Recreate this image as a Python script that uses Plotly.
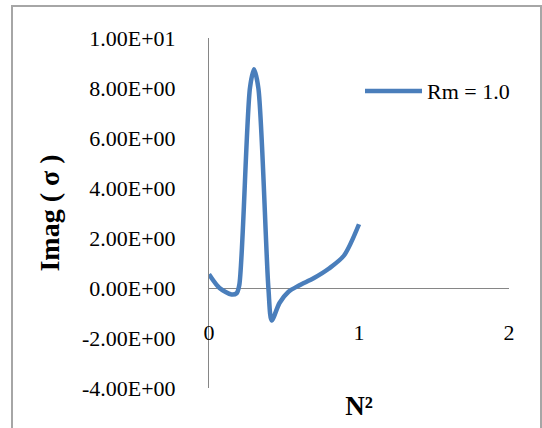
import plotly.graph_objects as go

# Imaginary part of the growth rate versus N^2
n_squared = [0.0, 0.07, 0.15, 0.184, 0.202, 0.273, 0.30, 0.329, 0.396, 0.418,
             0.47, 0.53, 0.60, 0.70, 0.80, 0.90, 1.0]
imag_sigma = [0.55, 0.0, -0.26, -0.21, 0.12, 8.0, 8.75, 8.0, 0.0, -1.3,
              -0.6, -0.15, 0.1, 0.4, 0.78, 1.3, 2.55]
series_name = "Rm = 1.0"

y_tick_values = [-4, -2, 0, 2, 4, 6, 8, 10]
y_tick_labels = ["-4.00E+00", "-2.00E+00", "0.00E+00", "2.00E+00",
                 "4.00E+00", "6.00E+00", "8.00E+00", "1.00E+01"]
x_tick_values = [0, 1, 2]
x_tick_labels = ["0", "1", "2"]

LINE_BLUE = "#4a7ebb"
AXIS_GREY = "#868686"
FONT = "Liberation Serif"

fig = go.Figure()
fig.add_trace(go.Scatter(
    x=n_squared, y=imag_sigma, name=series_name, mode="lines",
    line=dict(color=LINE_BLUE, width=4.5, shape="spline", smoothing=0.8),
    showlegend=False,
))

W, H = 542, 428
L, R, T, B = 209, 33, 38, 40
pw, ph = W - L - R, H - T - B


def px_x(p):
    return (p - L) / pw


def px_y(p):
    return (H - B - p) / ph


fig.update_layout(
    width=W, height=H,
    margin=dict(l=L, r=R, t=T, b=B),
    paper_bgcolor="white", plot_bgcolor="white",
    font=dict(family=FONT, size=22, color="black"),
    xaxis=dict(
        range=[0, 2], tickvals=x_tick_values, ticktext=x_tick_labels,
        showgrid=False, zeroline=False, showline=False, ticks="",
        anchor="free", position=px_y(317),
        tickfont=dict(family=FONT, size=22, color="black"),
        title=dict(text="<b>N²</b>", font=dict(family=FONT, size=27), standoff=52),
    ),
    yaxis=dict(
        range=[-4, 10], tickvals=y_tick_values, ticktext=y_tick_labels,
        showgrid=False, showline=True, linecolor=AXIS_GREY, linewidth=1,
        zeroline=True, zerolinecolor=AXIS_GREY, zerolinewidth=1,
        ticks="", ticklabelstandoff=28,
        tickfont=dict(family=FONT, size=22, color="black"),
        title=dict(text="<b>Imag ( σ )</b>", font=dict(family=FONT, size=28), standoff=14),
    ),
)

# outer chart border
fig.add_shape(type="rect", xref="paper", yref="paper",
              x0=px_x(12), x1=px_x(541), y0=px_y(445), y1=px_y(6),
              line=dict(color="#a6a6a6", width=2), fillcolor="rgba(0,0,0,0)",
              layer="below")

# legend entry
fig.add_shape(type="line", xref="paper", yref="paper",
              x0=px_x(365), x1=px_x(422), y0=px_y(91), y1=px_y(91),
              line=dict(color=LINE_BLUE, width=4.5))
fig.add_annotation(xref="paper", yref="paper", x=px_x(425), y=px_y(91),
                   text=series_name, showarrow=False, xanchor="left", yanchor="middle",
                   font=dict(family=FONT, size=22, color="black"))

fig.write_html("out.html")
